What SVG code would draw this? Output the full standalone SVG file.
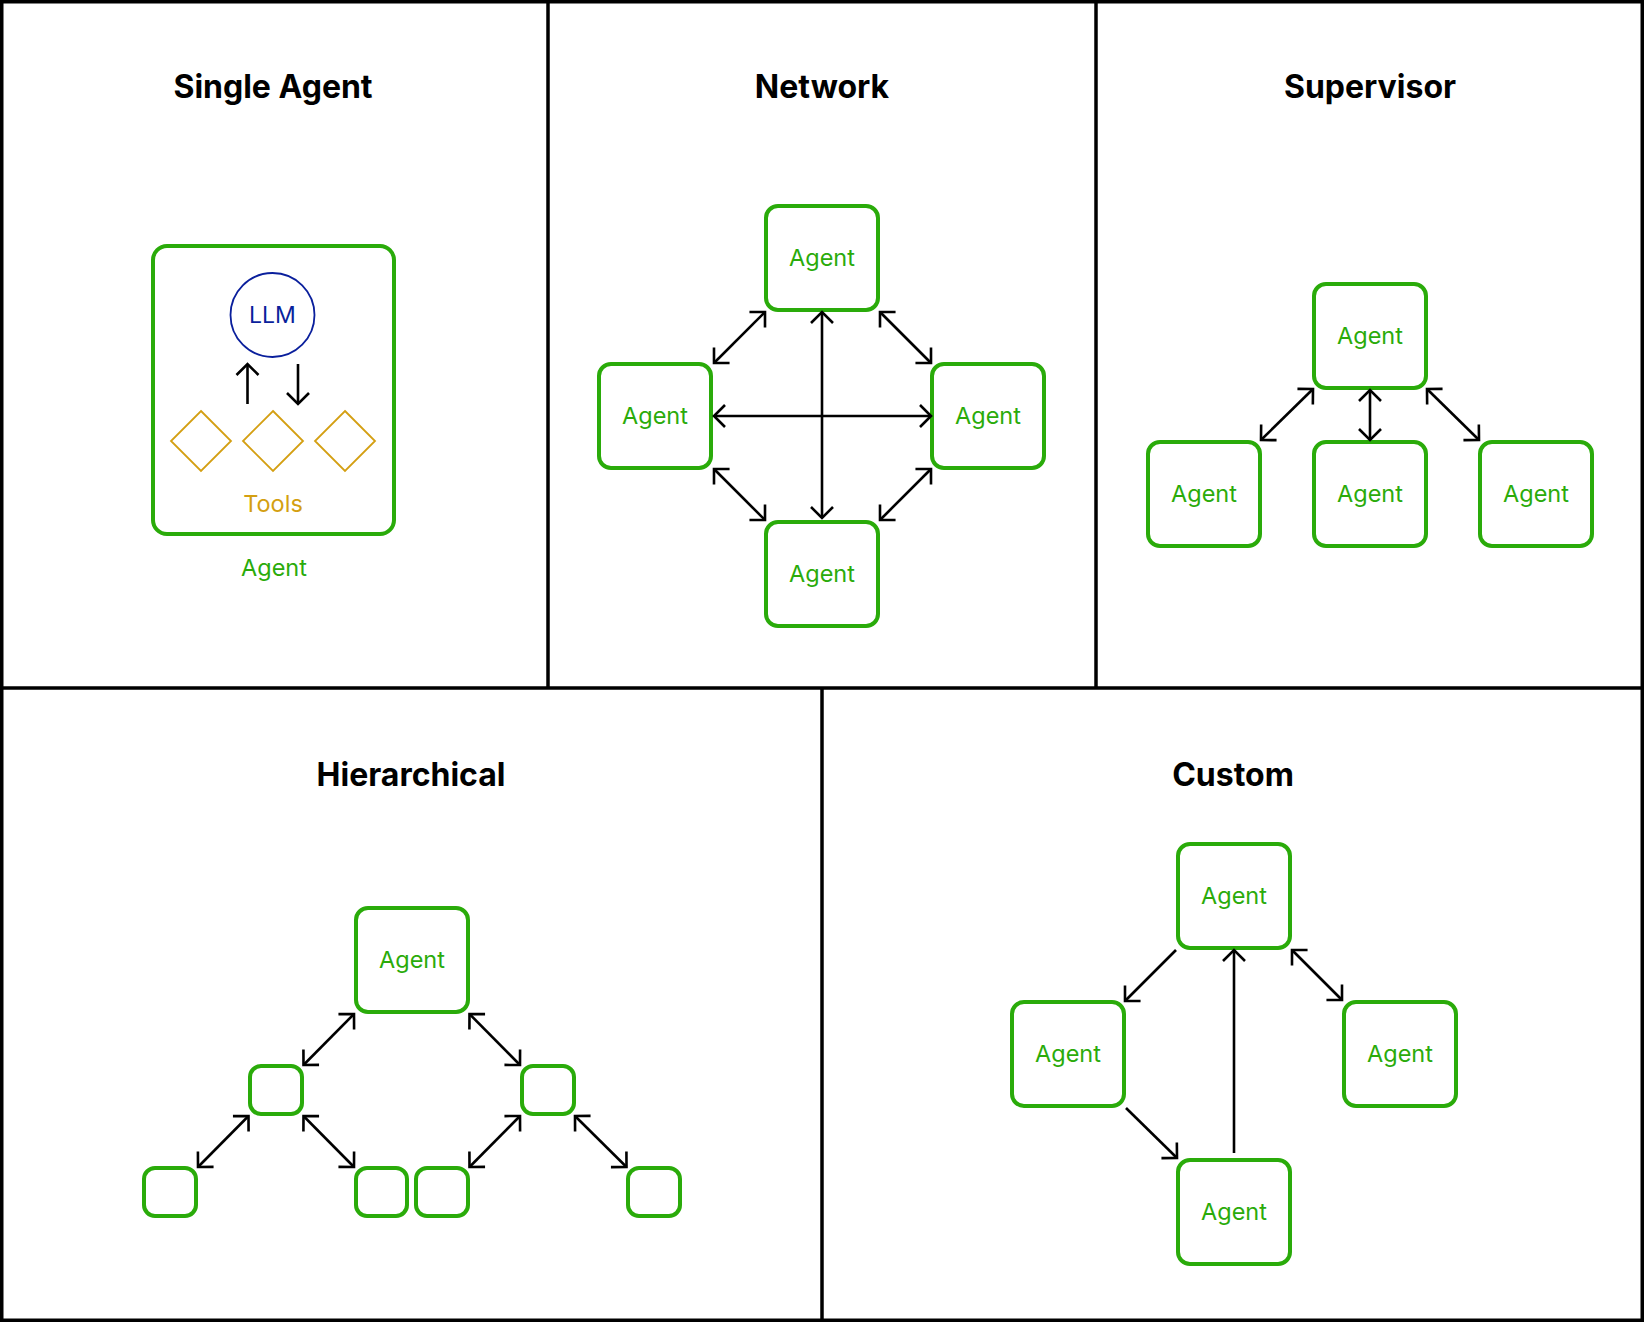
<svg xmlns="http://www.w3.org/2000/svg" width="1644" height="1322" viewBox="0 0 1644 1322">
<style>
.title{font-family:Inter,"Liberation Sans",sans-serif;font-weight:700;font-size:32px;fill:#000;text-anchor:middle}
.lbl{font-family:Inter,"Liberation Sans",sans-serif;font-size:23.5px;fill:#2aab0a;text-anchor:middle}
.box{fill:#fff;stroke:#2aab0a;stroke-width:4}
.tool{fill:none;stroke:#d49f12;stroke-width:1.8}
.div{stroke:#000;stroke-width:3.5;fill:none}
.conn line{stroke:#000;stroke-width:2.6;fill:none}
.ab{marker-start:url(#h);marker-end:url(#h)}
.ae{marker-end:url(#h)}
</style>
<defs>
<marker id="h" markerUnits="userSpaceOnUse" viewBox="-16 -16 32 32" markerWidth="32" markerHeight="32" refX="0" refY="0" orient="auto-start-reverse">
<path d="M-11,-11 L0,0 L-11,11" fill="none" stroke="#000" stroke-width="2.6" stroke-linejoin="miter"/>
</marker>
</defs>
<rect width="1644" height="1322" fill="#fff"/>
<g id="frame">
<rect x="1.75" y="1.75" width="1640.5" height="1318.5" class="div"/>
<line x1="548" y1="0" x2="548" y2="688" class="div"/>
<line x1="1096" y1="0" x2="1096" y2="688" class="div"/>
<line x1="0" y1="688" x2="1644" y2="688" class="div"/>
<line x1="822" y1="688" x2="822" y2="1322" class="div"/>
</g>
<g id="titles">
<text class="title" x="273" y="98">Single Agent</text>
<text class="title" x="822" y="98">Network</text>
<text class="title" x="1370" y="98">Supervisor</text>
<text class="title" x="411" y="786">Hierarchical</text>
<text class="title" x="1233" y="786">Custom</text>
</g>
<g id="single-agent">
<rect class="box" x="153" y="246" width="241" height="288" rx="14"/>
<circle cx="272.5" cy="315" r="42" fill="none" stroke="#0a1f9c" stroke-width="1.8"/>
<text x="272.5" y="323" font-family="Inter,'Liberation Sans',sans-serif" font-size="23" fill="#0a1f9c" text-anchor="middle">LLM</text>
<polygon class="tool" points="201,411 231,441 201,471 171,441"/>
<polygon class="tool" points="273,411 303,441 273,471 243,441"/>
<polygon class="tool" points="345,411 375,441 345,471 315,441"/>
<text x="273" y="512" font-family="Inter,'Liberation Sans',sans-serif" font-size="23.5" fill="#d49f12" text-anchor="middle">Tools</text>
<text class="lbl" x="274" y="576">Agent</text>
</g>
<g id="net-top"><rect class="box" x="766" y="206" width="112" height="104" rx="12"/><text class="lbl" x="822" y="266">Agent</text></g>
<g id="net-left"><rect class="box" x="599" y="364" width="112" height="104" rx="12"/><text class="lbl" x="655" y="424">Agent</text></g>
<g id="net-right"><rect class="box" x="932" y="364" width="112" height="104" rx="12"/><text class="lbl" x="988" y="424">Agent</text></g>
<g id="net-bottom"><rect class="box" x="766" y="522" width="112" height="104" rx="12"/><text class="lbl" x="822" y="582">Agent</text></g>
<g id="sup-top"><rect class="box" x="1314" y="284" width="112" height="104" rx="12"/><text class="lbl" x="1370" y="344">Agent</text></g>
<g id="sup-left"><rect class="box" x="1148" y="442" width="112" height="104" rx="12"/><text class="lbl" x="1204" y="502">Agent</text></g>
<g id="sup-mid"><rect class="box" x="1314" y="442" width="112" height="104" rx="12"/><text class="lbl" x="1370" y="502">Agent</text></g>
<g id="sup-right"><rect class="box" x="1480" y="442" width="112" height="104" rx="12"/><text class="lbl" x="1536" y="502">Agent</text></g>
<g id="hier-top"><rect class="box" x="356" y="908" width="112" height="104" rx="12"/><text class="lbl" x="412" y="968">Agent</text></g>
<g id="hier-mid-left"><rect class="box" x="250" y="1066" width="52" height="48" rx="11"/></g>
<g id="hier-mid-right"><rect class="box" x="522" y="1066" width="52" height="48" rx="11"/></g>
<g id="hier-leaf-1"><rect class="box" x="144" y="1168" width="52" height="48" rx="11"/></g>
<g id="hier-leaf-2"><rect class="box" x="356" y="1168" width="51" height="48" rx="11"/></g>
<g id="hier-leaf-3"><rect class="box" x="416" y="1168" width="52" height="48" rx="11"/></g>
<g id="hier-leaf-4"><rect class="box" x="628" y="1168" width="52" height="48" rx="11"/></g>
<g id="cus-top"><rect class="box" x="1178" y="844" width="112" height="104" rx="12"/><text class="lbl" x="1234" y="904">Agent</text></g>
<g id="cus-left"><rect class="box" x="1012" y="1002" width="112" height="104" rx="12"/><text class="lbl" x="1068" y="1062">Agent</text></g>
<g id="cus-right"><rect class="box" x="1344" y="1002" width="112" height="104" rx="12"/><text class="lbl" x="1400" y="1062">Agent</text></g>
<g id="cus-bottom"><rect class="box" x="1178" y="1160" width="112" height="104" rx="12"/><text class="lbl" x="1234" y="1220">Agent</text></g>
<g id="connectors" class="conn">
<line class="ae" x1="247.5" y1="404" x2="247.5" y2="364"/>
<line class="ae" x1="298" y1="364" x2="298" y2="404"/>
<line class="ab" x1="714" y1="363" x2="765" y2="312"/>
<line class="ab" x1="880" y1="312" x2="931" y2="363"/>
<line class="ab" x1="714" y1="469" x2="765" y2="520"/>
<line class="ab" x1="931" y1="469" x2="880" y2="520"/>
<line class="ab" x1="822" y1="312" x2="822" y2="518"/>
<line class="ab" x1="714" y1="416" x2="931" y2="416"/>
<line class="ab" x1="1261" y1="440" x2="1313" y2="389"/>
<line class="ab" x1="1370" y1="390" x2="1370" y2="440"/>
<line class="ab" x1="1427" y1="389" x2="1479" y2="440"/>
<line class="ab" x1="303.5" y1="1065" x2="354" y2="1014"/>
<line class="ab" x1="469.5" y1="1014" x2="520" y2="1065"/>
<line class="ab" x1="198" y1="1167" x2="248.5" y2="1116"/>
<line class="ab" x1="303.5" y1="1116" x2="354" y2="1167"/>
<line class="ab" x1="469.5" y1="1167" x2="520" y2="1116"/>
<line class="ab" x1="575" y1="1116" x2="626.5" y2="1167"/>
<line class="ae" x1="1176" y1="950" x2="1125" y2="1001"/>
<line class="ab" x1="1292" y1="950" x2="1342" y2="1000"/>
<line class="ae" x1="1126" y1="1108" x2="1177" y2="1158"/>
<line class="ae" x1="1234" y1="1153" x2="1234" y2="950"/>
</g>
</svg>
